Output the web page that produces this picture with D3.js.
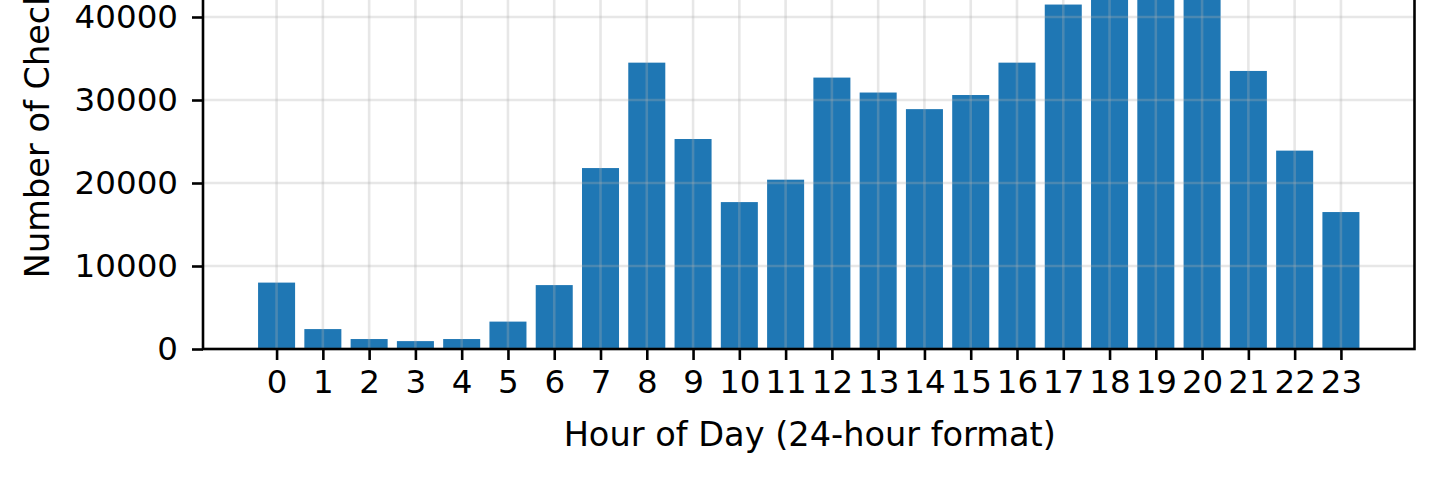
<!DOCTYPE html>
<html>
<head>
<meta charset="utf-8">
<script src="https://cdn.jsdelivr.net/npm/d3@7"></script>
<style>
  html, body { margin: 0; padding: 0; background: #fff; }
  svg { display: block; }
  text { font-family: "DejaVu Sans", sans-serif; fill: #000; }
</style>
</head>
<body>
<svg id="chart" width="1435" height="478"></svg>
<script>
// Data
const hours = [0,1,2,3,4,5,6,7,8,9,10,11,12,13,14,15,16,17,18,19,20,21,22,23];
const checkins = [8000, 2400, 1200, 950, 1200, 3300, 7700, 21800, 34500, 25300, 17700, 20400,
                  32700, 30900, 28900, 30600, 34500, 41500, 46000, 47500, 45000, 33500, 23900, 16500];
const yTicks = [0, 10000, 20000, 30000, 40000];
const xLabel = "Hour of Day (24-hour format)";
const yLabel = "Number of Check-ins";

const svg = d3.select("#chart");
const plotLeft = 203, plotRight = 1414.5, plotBottom = 349;
const yMax = 59500;
const pxPer = 83 / 10000;
const plotTop = plotBottom - yMax * pxPer;

const x = d3.scaleLinear().domain([-1.59, 24.59]).range([plotLeft, plotRight]);
const y = d3.scaleLinear().domain([0, yMax]).range([plotBottom, plotTop]);
const bw = x(0.4) - x(-0.4);

// Bars
svg.append("g").selectAll("rect").data(hours).join("rect")
  .attr("x", d => x(d) - bw / 2)
  .attr("width", bw)
  .attr("y", (d, i) => y(checkins[i]))
  .attr("height", (d, i) => y(0) - y(checkins[i]))
  .attr("fill", "#1f77b4");

// Grid (drawn above bars)
const grid = svg.append("g").attr("stroke", "#b0b0b0").attr("stroke-opacity", 0.3).attr("stroke-width", 2.6);
grid.selectAll("line.v").data(hours).join("line").attr("class", "v")
  .attr("x1", d => x(d)).attr("x2", d => x(d))
  .attr("y1", plotTop).attr("y2", plotBottom);
grid.selectAll("line.h").data(yTicks).join("line").attr("class", "h")
  .attr("x1", plotLeft).attr("x2", plotRight)
  .attr("y1", d => y(d)).attr("y2", d => y(d));

// Axes
const xAxis = d3.axisBottom(x).tickValues(hours).tickFormat(d3.format("d")).tickSize(11).tickPadding(10);
const yAxis = d3.axisLeft(y).tickValues(yTicks).tickFormat(d3.format("d")).tickSize(11).tickPadding(14);

const gx = svg.append("g").attr("transform", `translate(0,${plotBottom})`).call(xAxis);
const gy = svg.append("g").attr("transform", `translate(${plotLeft},0)`).call(yAxis);
[gx, gy].forEach(g => {
  g.select(".domain").remove();
  g.selectAll(".tick line").attr("stroke", "#000").attr("stroke-width", 2.6);
  g.selectAll(".tick text").attr("font-size", 32.5).attr("font-family", "DejaVu Sans").attr("fill", "#111");
});

// Spines
svg.append("rect")
  .attr("x", plotLeft).attr("y", plotTop)
  .attr("width", plotRight - plotLeft).attr("height", plotBottom - plotTop)
  .attr("fill", "none").attr("stroke", "#000").attr("stroke-width", 2.6);

// Labels
svg.append("text")
  .attr("x", (plotLeft + plotRight) / 2 + 1).attr("y", 446)
  .attr("text-anchor", "middle").attr("font-size", 33.6).attr("fill", "#111")
  .text(xLabel);
svg.append("text")
  .attr("transform", `translate(49,${(plotTop + plotBottom) / 2}) rotate(-90)`)
  .attr("text-anchor", "middle").attr("font-size", 33.6).attr("fill", "#111")
  .text(yLabel);
</script>
</body>
</html>
